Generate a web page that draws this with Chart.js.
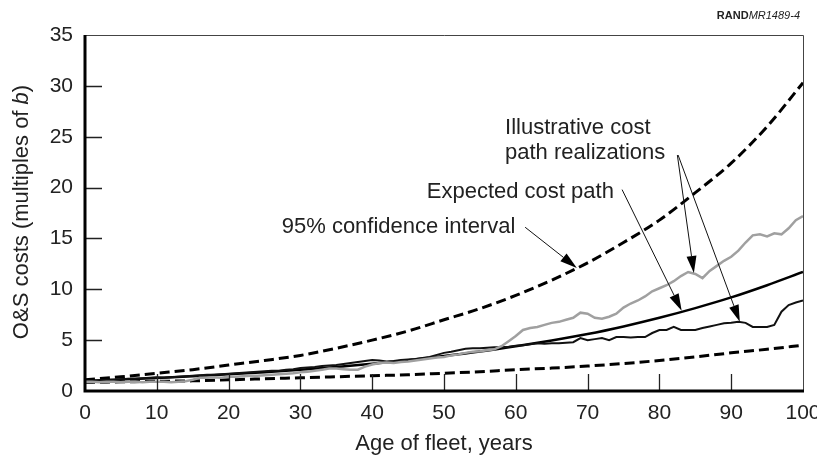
<!DOCTYPE html>
<html>
<head>
<meta charset="utf-8">
<script src="https://cdn.jsdelivr.net/npm/chart.js@4/dist/chart.umd.min.js"></script>
<style>
  html, body { margin: 0; padding: 0; background: #fff; }
  #wrap { width: 817px; height: 455px; position: relative; }
</style>
</head>
<body>
<div id="wrap"><canvas id="c" width="817" height="455"></canvas></div>
<script>
// ---- Data ----
const ages5 = [0,5,10,15,20,25,30,35,40,45,50,55,60,65,70,75,80,85,90,95,100];
const upperCI = [1.1,1.4,1.75,2.1,2.55,3.0,3.5,4.2,5.0,5.9,7.0,8.1,9.4,10.9,12.6,14.6,16.8,19.5,22.4,26.0,30.3];
const lowerCI = [0.85,0.9,0.95,1.0,1.1,1.2,1.3,1.4,1.5,1.6,1.75,1.9,2.1,2.25,2.45,2.7,3.0,3.35,3.75,4.1,4.5];
const expectedPath = [1.0,1.13,1.28,1.45,1.64,1.85,2.1,2.37,2.68,3.03,3.43,3.88,4.4,4.97,5.6,6.35,7.2,8.15,9.2,10.4,11.7];

const ages1 = [0,1,2,3,4,5,6,7,8,9,10,11,12,13,14,15,16,17,18,19,20,21,22,23,24,25,26,27,28,29,30,31,32,33,34,35,36,37,38,39,40,41,42,43,44,45,46,47,48,49,50,51,52,53,54,55,56,57,58,59,60,61,62,63,64,65,66,67,68,69,70,71,72,73,74,75,76,77,78,79,80,81,82,83,84,85,86,87,88,89,90,91,92,93,94,95,96,97,98,99,100];
const grayRealization = [0.9,0.9,0.85,0.9,0.9,0.85,0.9,0.9,0.85,0.9,0.9,0.9,0.85,0.9,0.95,1.1,1.3,1.3,1.35,1.3,1.4,1.4,1.45,1.5,1.5,1.55,1.6,1.65,1.7,1.75,1.85,1.9,2.0,2.1,2.2,2.2,2.15,2.1,2.1,2.4,2.6,2.75,2.8,2.75,2.85,2.9,3.0,3.1,3.2,3.3,3.35,3.5,3.6,3.75,3.85,3.9,4.0,4.1,4.4,4.9,5.4,6.0,6.2,6.3,6.5,6.7,6.8,7.0,7.2,7.7,7.6,7.2,7.1,7.3,7.6,8.2,8.6,8.9,9.3,9.8,10.1,10.4,10.8,11.3,11.7,11.5,11.1,11.8,12.3,12.8,13.2,13.8,14.6,15.3,15.4,15.2,15.5,15.4,16.0,16.8,17.2];
const blackRealization = [1.0,1.0,1.05,1.1,1.1,1.15,1.2,1.2,1.25,1.3,1.35,1.3,1.35,1.4,1.45,1.5,1.55,1.6,1.6,1.65,1.7,1.75,1.8,1.85,1.9,1.95,2.0,2.0,2.1,2.15,2.25,2.3,2.35,2.45,2.5,2.55,2.65,2.75,2.85,2.95,3.05,3.0,2.9,2.95,3.05,3.1,3.15,3.25,3.35,3.55,3.75,3.85,4.0,4.15,4.2,4.2,4.25,4.3,4.3,4.35,4.45,4.5,4.6,4.7,4.65,4.7,4.7,4.75,4.8,5.2,5.0,5.1,5.2,5.0,5.3,5.3,5.25,5.3,5.3,5.7,6.0,6.0,6.3,6.0,6.0,6.0,6.2,6.35,6.5,6.65,6.7,6.8,6.7,6.3,6.3,6.3,6.5,7.8,8.45,8.7,8.9];

const xTicks = [0,10,20,30,40,50,60,70,80,90,100];
const yTicks = [0,5,10,15,20,25,30,35];

// Annotation texts and anchor points (data coordinates)
const notes = [
  { text: 'Illustrative cost', x: 58.5, y: 25.9 },
  { text: 'path realizations', x: 58.5, y: 23.4 },
  { text: 'Expected cost path', x: 47.6, y: 19.6 },
  { text: '95% confidence interval', x: 27.4, y: 16.1 }
];
const arrows = [
  { from: [61.3, 16.1], to: [68.5, 12.1] },
  { from: [74.8, 19.8], to: [83.1, 7.9] },
  { from: [82.5, 23.2], to: [84.8, 11.6] },
  { from: [82.6, 23.2], to: [91.2, 6.8] }
];

const FONT = '"Liberation Sans", Arial, Helvetica, sans-serif';
const toXY = (xs, ys) => xs.map((x, i) => ({ x: x, y: ys[i] }));

const decor = {
  id: 'decor',
  afterDatasetsDraw(chart) {
    const ctx = chart.ctx;
    const xs = chart.scales.x, ys = chart.scales.y;
    const a = chart.chartArea;
    ctx.save();
    // thin top / right frame
    ctx.strokeStyle = '#444';
    ctx.lineWidth = 1;
    ctx.beginPath();
    ctx.moveTo(a.left, a.top + 0.5); ctx.lineTo(a.right + 0.5, a.top + 0.5);
    ctx.lineTo(a.right + 0.5, a.bottom);
    ctx.stroke();
    // inward ticks
    ctx.strokeStyle = '#222';
    ctx.lineWidth = 1.3;
    ctx.beginPath();
    xTicks.slice(1, -1).forEach(v => {
      const px = Math.round(xs.getPixelForValue(v)) + 0.5;
      ctx.moveTo(px, a.bottom); ctx.lineTo(px, a.bottom - 17);
    });
    yTicks.slice(1, -1).forEach(v => {
      const py = Math.round(ys.getPixelForValue(v)) + 0.5;
      ctx.moveTo(a.left, py); ctx.lineTo(a.left + 17, py);
    });
    ctx.stroke();
    // thick left / bottom axes
    ctx.strokeStyle = '#000';
    ctx.lineWidth = 3;
    ctx.beginPath();
    ctx.moveTo(a.left, a.top); ctx.lineTo(a.left, a.bottom);
    ctx.lineTo(a.right + 1, a.bottom);
    ctx.stroke();

    // annotations
    ctx.fillStyle = '#222';
    ctx.font = '22px ' + FONT;
    ctx.textBaseline = 'middle';
    ctx.textAlign = 'left';
    notes.forEach(n => ctx.fillText(n.text, xs.getPixelForValue(n.x), ys.getPixelForValue(n.y)));

    // arrows
    arrows.forEach(ar => {
      const x1 = xs.getPixelForValue(ar.from[0]), y1 = ys.getPixelForValue(ar.from[1]);
      const x2 = xs.getPixelForValue(ar.to[0]), y2 = ys.getPixelForValue(ar.to[1]);
      const ang = Math.atan2(y2 - y1, x2 - x1);
      const L = 17, W = 5;
      const bx = x2 - L * Math.cos(ang), by = y2 - L * Math.sin(ang);
      ctx.strokeStyle = '#111';
      ctx.lineWidth = 1;
      ctx.beginPath(); ctx.moveTo(x1, y1); ctx.lineTo(bx, by); ctx.stroke();
      ctx.fillStyle = '#000';
      ctx.beginPath();
      ctx.moveTo(x2, y2);
      ctx.lineTo(bx + W * Math.sin(ang), by - W * Math.cos(ang));
      ctx.lineTo(bx - W * Math.sin(ang), by + W * Math.cos(ang));
      ctx.closePath(); ctx.fill();
    });

    // axis titles
    ctx.fillStyle = '#222';
    ctx.font = '22px ' + FONT;
    ctx.textAlign = 'center';
    ctx.textBaseline = 'middle';
    ctx.fillText('Age of fleet, years', (a.left + a.right) / 2, 444);

    // y title with italic b
    const p1 = 'O&S costs (multiples of ', p2 = 'b', p3 = ')';
    ctx.font = '22px ' + FONT;
    const w1 = ctx.measureText(p1).width, w3 = ctx.measureText(p3).width;
    ctx.font = 'italic 22px ' + FONT;
    const w2 = ctx.measureText(p2).width;
    const tot = w1 + w2 + w3;
    ctx.translate(22, 212);
    ctx.rotate(-Math.PI / 2);
    ctx.textAlign = 'left';
    let sx = -tot / 2;
    ctx.font = '22px ' + FONT; ctx.fillText(p1, sx, 0); sx += w1;
    ctx.font = 'italic 22px ' + FONT; ctx.fillText(p2, sx, 0); sx += w2;
    ctx.font = '22px ' + FONT; ctx.fillText(p3, sx, 0);
    ctx.setTransform(1, 0, 0, 1, 0, 0);

    // figure id
    ctx.textBaseline = 'middle';
    ctx.textAlign = 'left';
    ctx.fillStyle = '#222';
    const r1 = 'RAND', r2 = 'MR1489-4';
    ctx.font = 'italic 11px ' + FONT;
    const wr2 = ctx.measureText(r2).width;
    ctx.font = 'bold 11px ' + FONT;
    const wr1 = ctx.measureText(r1).width;
    const startX = 800 - wr1 - wr2;
    ctx.fillText(r1, startX, 16);
    ctx.font = 'italic 11px ' + FONT;
    ctx.fillText(r2, startX + wr1, 16);
    ctx.restore();
  }
};

new Chart(document.getElementById('c'), {
  type: 'line',
  data: {
    datasets: [
      { data: toXY(ages1, grayRealization), borderColor: '#a0a0a0', borderWidth: 2.5, pointRadius: 0, tension: 0 },
      { data: toXY(ages1, blackRealization), borderColor: '#111', borderWidth: 2, pointRadius: 0, tension: 0 },
      { data: toXY(ages5, expectedPath), borderColor: '#000', borderWidth: 2.5, pointRadius: 0, cubicInterpolationMode: 'monotone' },
      { data: toXY(ages5, upperCI), borderColor: '#000', borderWidth: 3, borderDash: [10, 5], pointRadius: 0, cubicInterpolationMode: 'monotone' },
      { data: toXY(ages5, lowerCI), borderColor: '#000', borderWidth: 3, borderDash: [10, 5], pointRadius: 0, cubicInterpolationMode: 'monotone' }
    ]
  },
  options: {
    responsive: false,
    animation: false,
    layout: { padding: { top: 35, right: 14, left: 0, bottom: 0 } },
    plugins: { legend: { display: false }, tooltip: { enabled: false }, title: { display: false } },
    scales: {
      x: {
        type: 'linear', min: 0, max: 100,
        afterBuildTicks: s => { s.ticks = xTicks.map(v => ({ value: v })); },
        afterFit: s => { s.height = 64; s.paddingLeft = 0; s.paddingRight = 0; },
        grid: { display: false, drawTicks: false },
        border: { display: false },
        ticks: { padding: 10, color: '#222', font: { family: FONT, size: 21 }, maxRotation: 0 }
      },
      y: {
        type: 'linear', min: 0, max: 35,
        afterBuildTicks: s => { s.ticks = yTicks.map(v => ({ value: v })); },
        afterFit: s => { s.width = 85; s.paddingTop = 0; s.paddingBottom = 0; },
        grid: { display: false, drawTicks: false },
        border: { display: false },
        ticks: { padding: 12, color: '#222', font: { family: FONT, size: 21 } }
      }
    }
  },
  plugins: [decor]
});
</script>
</body>
</html>
